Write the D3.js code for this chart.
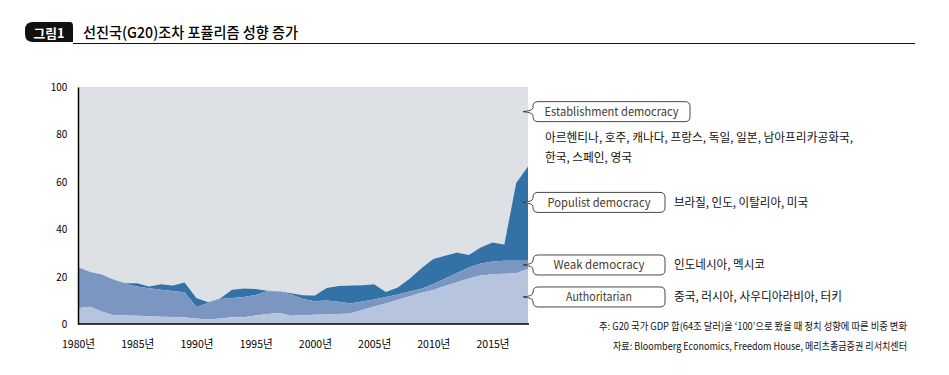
<!DOCTYPE html>
<html>
<head>
<meta charset="utf-8">
<script src="https://cdn.jsdelivr.net/npm/d3@7"></script>
<style>
  body { margin: 0; background: #fff; }
  text { font-family: "Noto Sans CJK KR", "Noto Sans", sans-serif; }
</style>
</head>
<body>
<div id="chart"></div>
<script>
// values (share of G20 GDP, %)
const years = [1980, 1981, 1982, 1983, 1984, 1985, 1986, 1987, 1988, 1989,
  1990, 1991, 1992, 1993, 1994, 1995, 1996, 1997, 1998, 1999,
  2000, 2001, 2002, 2003, 2004, 2005, 2006, 2007, 2008, 2009,
  2010, 2011, 2012, 2013, 2014, 2015, 2016, 2017, 2018];
const authoritarian = [6.6, 7.3, 5.3, 3.7, 3.6, 3.5, 3.3, 3.1, 3.0, 2.7,
  2.3, 1.9, 2.3, 2.8, 2.8, 3.6, 4.2, 4.6, 3.5, 3.7,
  3.9, 4.0, 4.2, 4.4, 5.9, 7.4, 8.7, 10.2, 11.7, 13.2,
  14.3, 16.0, 17.6, 19.2, 20.5, 21.0, 21.2, 21.4, 23.2];
const weak = [17.3, 14.7, 15.6, 15.1, 13.3, 12.3, 11.8, 11.4, 10.9, 10.7,
  4.9, 7.0, 8.2, 8.2, 8.6, 8.6, 9.7, 9.1, 8.9, 6.8,
  5.7, 5.9, 5.2, 4.3, 3.6, 2.9, 2.7, 2.2, 2.0, 1.7,
  2.6, 3.2, 3.9, 4.6, 5.0, 5.4, 5.5, 5.3, 3.5];
const populist = [0, 0, 0, 0, 0.3, 1.4, 0.7, 2.3, 2.3, 4.1,
  3.8, 0.3, 0.3, 3.4, 3.6, 2.6, 0.1, 0.1, 0.6, 1.6,
  2.4, 5.3, 6.6, 7.5, 6.9, 6.5, 2.1, 3.0, 5.4, 8.6,
  10.5, 9.6, 8.7, 5.3, 6.8, 8.0, 6.8, 32.8, 39.8];
const establishment = [76.1, 78.0, 79.1, 81.2, 82.8, 82.8, 84.2, 83.2, 83.8, 82.5,
  89.0, 90.8, 89.2, 85.6, 85.0, 85.2, 86.0, 86.2, 87.0, 87.9,
  88.0, 84.8, 84.0, 83.8, 83.6, 83.2, 86.5, 84.6, 80.9, 76.5,
  72.6, 71.2, 69.8, 70.9, 67.7, 65.6, 66.5, 40.5, 33.5];

const seriesKeys = ['authoritarian', 'weak', 'populist', 'establishment'];
const xTicks = [1980, 1985, 1990, 1995, 2000, 2005, 2010, 2015];
const yTicks = [0, 20, 40, 60, 80, 100];

const labels = ['Establishment democracy', 'Populist democracy', 'Weak democracy', 'Authoritarian'];
const countries = [
  ['아르헨티나, 호주, 캐나다, 프랑스, 독일, 일본, 남아프리카공화국,', '한국, 스페인, 영국'],
  ['브라질, 인도, 이탈리아, 미국'],
  ['인도네시아, 멕시코'],
  ['중국, 러시아, 사우디아라비아, 터키']
];

const colour = d3.scaleOrdinal()
  .domain(seriesKeys)
  .range(['#b7c4de', '#7b97c1', '#3372a6', '#dde1e6']);

const width = 949, height = 375;
const margin = { top: 87, right: 421, bottom: 51, left: 78 };

const svg = d3.select('#chart').append('svg')
  .attr('width', width)
  .attr('height', height);

// title
svg.append('path')
  .attr('d', 'M33,22 H70 Q73,22 73,26 V42 H33 Q25,42 25,34 V30 Q25,22 33,22 Z')
  .attr('fill', '#111');
svg.append('text')
  .attr('x', 49).attr('y', 37.5)
  .attr('text-anchor', 'middle')
  .attr('fill', '#fff')
  .style('font-size', '13px')
  .style('font-weight', 'bold')
  .attr('textLength', 31).attr('lengthAdjust', 'spacingAndGlyphs')
  .text('그림1');
svg.append('text')
  .attr('x', 83).attr('y', 38)
  .style('font-size', '15px')
  .style('font-weight', 500)
  .attr('textLength', 215).attr('lengthAdjust', 'spacingAndGlyphs')
  .text('선진국(G20)조차 포퓰리즘 성향 증가');
svg.append('line')
  .attr('x1', 73).attr('x2', 915)
  .attr('y1', 43.5).attr('y2', 43.5)
  .attr('stroke', '#111').attr('stroke-width', 1);

// chart
const x = d3.scaleLinear()
  .domain([1980, 2018])
  .range([margin.left, width - margin.right]);
const y = d3.scaleLinear()
  .domain([0, 100])
  .range([height - margin.bottom, margin.top]);

const rows = years.map((yr, i) => ({
  year: yr,
  authoritarian: authoritarian[i],
  weak: weak[i],
  populist: populist[i],
  establishment: establishment[i]
}));

const stacked = d3.stack().keys(seriesKeys)(rows);

const area = d3.area()
  .x(d => x(d.data.year))
  .y0(d => y(d[0]))
  .y1(d => y(d[1]));

svg.append('g')
  .selectAll('path')
  .data(stacked.slice().reverse())
  .join('path')
  .attr('d', area)
  .attr('fill', d => colour(d.key));

// axes
const xAxis = svg.append('g')
  .attr('transform', `translate(0,${y(0)})`)
  .call(d3.axisBottom(x).tickValues(xTicks).tickSize(0).tickPadding(16).tickFormat(d => d + '년'));
xAxis.select('.domain').attr('stroke', '#000').attr('stroke-width', 1.5).attr('d', `M${x(1980)},0H${x(2018) + 1}`);
xAxis.selectAll('text')
  .style('font-size', '11px')
  .attr('fill', '#000')
  .attr('textLength', 33).attr('lengthAdjust', 'spacingAndGlyphs');

const yAxis = svg.append('g')
  .attr('transform', `translate(${x(1980)},0)`)
  .call(d3.axisLeft(y).tickValues(yTicks).tickSize(0).tickPadding(11));
yAxis.select('.domain').attr('stroke', '#000').attr('stroke-width', 1.5);
yAxis.selectAll('text')
  .style('font-size', '11px')
  .attr('fill', '#000')
  .attr('transform', 'scale(0.9,1)')
  .attr('x', -12);

// callouts
const calloutY = [89.6, 51.3, 24.9, 11.4];
const boxWidth = [157, 132, 132, 132];
const labelLen = [134, 103, 91, 66];
const countryLen = [[308, 87], [134], [91], [168]];
const boxLeft = 533, boxH = 20, r = 5;

function bubble(x0, x1, cy) {
  const t = cy - boxH / 2, b = cy + boxH / 2;
  return `M${x0 + r},${t} H${x1 - r} Q${x1},${t} ${x1},${t + r} V${b - r} Q${x1},${b} ${x1 - r},${b}` +
    ` H${x0 + r} Q${x0},${b} ${x0},${b - r} V${cy + 4} Q${x0},${cy + 1} ${x0 - 10},${cy}` +
    ` Q${x0},${cy - 1} ${x0},${cy - 4} V${t + r} Q${x0},${t} ${x0 + r},${t} Z`;
}

labels.forEach((lab, i) => {
  const cy = y(calloutY[i]);
  const g = svg.append('g');
  g.append('path')
    .attr('d', bubble(boxLeft, boxLeft + boxWidth[i], cy))
    .attr('fill', '#fff')
    .attr('stroke', '#333')
    .attr('stroke-width', 0.9);
  g.append('text')
    .attr('x', boxLeft + boxWidth[i] / 2).attr('y', cy + 4.5)
    .attr('text-anchor', 'middle')
    .attr('fill', '#4a3a2c')
    .style('font-size', '12px')
    .attr('textLength', labelLen[i]).attr('lengthAdjust', 'spacingAndGlyphs')
    .text(lab);

  countries[i].forEach((line, j) => {
    const cx = i === 0 ? 545 : 674;
    const ty = i === 0 ? cy + 30 + j * 20 : cy + 4.5;
    g.append('text')
      .attr('x', cx).attr('y', ty)
      .attr('fill', '#111')
      .style('font-size', '12px')
      .attr('textLength', countryLen[i][j]).attr('lengthAdjust', 'spacingAndGlyphs')
      .text(line);
  });
});

// notes
const notes = [
  ['주: G20 국가 GDP 합(64조 달러)을 \u2018100\u2019으로 봤을 때 정치 성향에 따른 비중 변화', 308],
  ['자료: Bloomberg Economics, Freedom House,  메리츠종금증권 리서치센터', 294]
];
notes.forEach((n, i) => {
  svg.append('text')
    .attr('x', 907 - n[1]).attr('y', 330 + i * 20)
    .attr('fill', '#111')
    .style('font-size', '10px')
    .attr('textLength', n[1]).attr('lengthAdjust', 'spacingAndGlyphs')
    .text(n[0]);
});
</script>
</body>
</html>
